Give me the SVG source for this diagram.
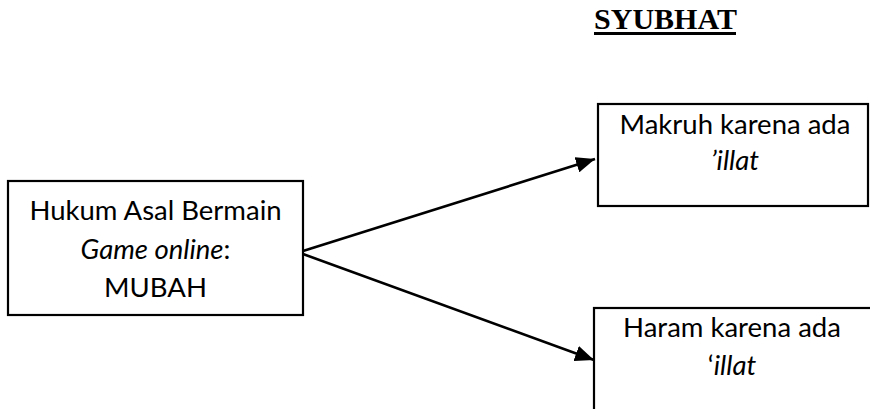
<svg xmlns="http://www.w3.org/2000/svg" width="870" height="409" viewBox="0 0 870 409">
  <style>
    .box { fill: #fff; stroke: #000; stroke-width: 2.2; }
    .lbl { font-family: Lato, "Open Sans", "Liberation Sans", sans-serif; font-size: 27.5px; fill: #000; text-anchor: middle; }
    .it { font-style: italic; }
    .title { font-family: "Liberation Serif", serif; font-weight: bold; font-size: 30px; fill: #000; text-anchor: middle; }
    .edge { stroke: #000; stroke-width: 2.6; fill: none; marker-end: url(#arrow); }
  </style>
  <defs>
    <marker id="arrow" markerUnits="userSpaceOnUse" markerWidth="20" markerHeight="16" refX="19" refY="8" orient="auto">
      <path d="M0,0 L19,8 L0,16 Z" fill="#000"/>
    </marker>
  </defs>
  <rect width="870" height="409" fill="#fff"/>

  <g id="title">
    <text class="title" x="665.5" y="29">SYUBHAT</text>
    <rect x="594" y="32" width="142" height="3" fill="#000"/>
  </g>

  <g id="connectors">
    <line class="edge" x1="303" y1="251" x2="595" y2="159"/>
    <line class="edge" x1="303" y1="254" x2="594" y2="360"/>
  </g>

  <g id="node-asal">
    <rect class="box" x="8" y="181" width="295" height="134"/>
    <text class="lbl" x="155.5" y="220">Hukum Asal Bermain</text>
    <text class="lbl" x="155.5" y="259"><tspan class="it">Game online</tspan>:</text>
    <text class="lbl" x="155.5" y="297">MUBAH</text>
  </g>

  <g id="node-makruh">
    <rect class="box" x="598" y="104" width="270" height="102"/>
    <text class="lbl" x="735" y="134">Makruh karena ada</text>
    <text class="lbl it" x="735" y="170">’illat</text>
  </g>

  <g id="node-haram">
    <rect class="box" x="594" y="308" width="300" height="130"/>
    <text class="lbl" x="732" y="337">Haram karena ada</text>
    <text class="lbl" x="732" y="375">‘<tspan class="it">illat</tspan></text>
  </g>
</svg>
